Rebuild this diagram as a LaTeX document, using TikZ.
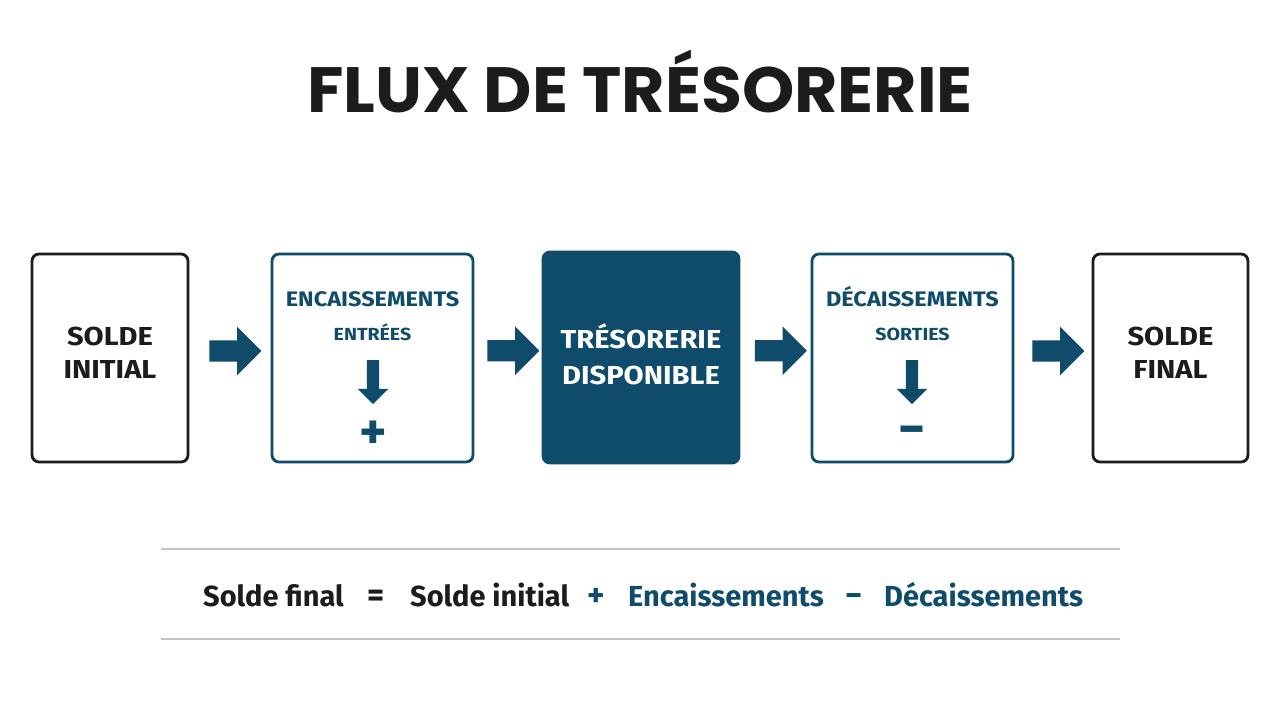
\documentclass[tikz,border=0pt]{standalone}
\usepackage{fontspec}
\setmainfont{Fira Sans}
\newfontfamily\titlefont{Poppins}
\newfontfamily\boxfont{Fira Sans}[FakeStretch=1.12]
\usetikzlibrary{shapes,arrows,positioning,calc}
\definecolor{navy}{HTML}{0F4B6B}
\definecolor{inkblk}{HTML}{1C1C1C}
\definecolor{rulegray}{HTML}{C4C4C4}

\begin{document}
\begin{tikzpicture}[x=1pt, y=-1pt,
            box/.style  = {rectangle, rounded corners=7pt, line width=2.8pt,
                           draw=inkblk, fill=white, inner sep=0pt,
                           minimum height=208pt},
            bbox/.style = {box, draw=navy},% blue framed boxes
            cash/.style = {box, draw=navy, fill=navy,
                           minimum height=211pt},
            lbl/.style  = {inner sep=0pt, align=center, text=inkblk,
                           font=\boxfont\bfseries\fontsize{26}{33}\selectfont},
            head/.style = {anchor=base, inner sep=0pt, text=navy,
                           font=\boxfont\bfseries\fontsize{21}{21}\selectfont},
            sub/.style  = {head, font=\boxfont\bfseries\fontsize{17.5}{18}\selectfont},
            sign/.style = {anchor=base, inner sep=0pt, text=navy,
                           font=\bfseries\fontsize{52}{52}\selectfont},
            flow/.style = {single arrow, fill=navy, draw=none,
                           inner xsep=0pt, inner ysep=10.5pt,
                           single arrow head extend=13.5pt,
                           single arrow head indent=0pt,
                           minimum height=52pt},
            drop/.style = {flow, inner sep=6pt,
                           single arrow head extend=9pt,
                           minimum height=44pt,
                           shape border rotate=270},
            term/.style = {anchor=base west, inner sep=0pt,
                           font=\bfseries\fontsize{29}{29}\selectfont},
            oper/.style = {anchor=base, inner sep=0pt,
                           font=\bfseries\fontsize{33}{33}\selectfont},
            ]
    \useasboundingbox (0,0) rectangle (1280,720);
    \fill[white] (0,0) rectangle (1280,720);

    % title
    \node[anchor=base, inner sep=0pt, text=inkblk,
          font=\titlefont\bfseries\fontsize{64}{64}\selectfont]
          (title) at (640,112) {\scalebox{1.04}[1]{FLUX DE TRÉSORERIE}};

    % the five stages
    \node[box,  minimum width=156pt] (ini) at (110,358)    {};
    \node[bbox, minimum width=201pt] (enc) at (372.5,358)  {};
    \node[cash, minimum width=196pt] (dis) at (641,357.5)  {};
    \node[bbox, minimum width=201pt] (dec) at (912.5,358)  {};
    \node[box,  minimum width=155pt] (fin) at (1170.5,358) {};

    \node[lbl] (initxt) at ($(ini.center)+(0,-5.5)$) {SOLDE\\INITIAL};
    \node[lbl, text=white, font=\boxfont\bfseries\fontsize{26}{36}\selectfont]
          (distxt) at ($(dis.center)+(0,-3.5)$) {TRÉSORERIE\\DISPONIBLE};
    \node[lbl] (fintxt) at ($(fin.center)+(0,-5.5)$) {SOLDE\\FINAL};

    % contents of the framed boxes
    \node[head] (enchd) at (enc.center |- 0,306) {ENCAISSEMENTS};
    \node[sub]  (encsb) at (enc.center |- 0,340) {ENTRÉES};
    \node[drop] (encdn) at (373,379) {};
    \node[sign] (encpl) at (373,449) {+};
    \node[head] (dechd) at (dec.center |- 0,306) {DÉCAISSEMENTS};
    \node[sub]  (decsb) at (dec.center |- 0,340) {SORTIES};
    \node[drop] (decdn) at (912,379) {};
    \node[sign] (decmi) at (912,446) {−};

    % arrows between the stages
    \node[flow] (a1) at ($(ini.east)!0.5!(enc.west)+(0,-7)$) {};
    \node[flow] (a2) at ($(enc.east)!0.5!(dis.west)+(0,-7)$) {};
    \node[flow] (a3) at ($(dis.east)!0.5!(dec.west)+(0,-7)$) {};
    \node[flow] (a4) at ($(dec.east)!0.5!(fin.west)+(0,-7)$) {};

    % formula
    \coordinate (ruleA) at (161,549);
    \coordinate (ruleB) at (1120,549);
    \coordinate (ruleC) at (161,639);
    \coordinate (ruleD) at (1120,639);
    \draw[rulegray, line width=2.4pt] (ruleA) -- (ruleB);
    \draw[rulegray, line width=2.4pt] (ruleC) -- (ruleD);
    \node[term, text=inkblk] (t1) at (203,606) {Solde final};
    \node[oper, text=inkblk] (t2) at (376,606) {=};
    \node[term, text=inkblk] (t3) at (410,606) {Solde initial};
    \node[oper, text=navy]   (t4) at (596,606) {+};
    \node[term, text=navy]   (t5) at (628,606) {Encaissements};
    \node[oper, text=navy]   (t6) at (854,606) {−};
    \node[term, text=navy]   (t7) at (884,606) {Décaissements};
\end{tikzpicture}
\end{document}
